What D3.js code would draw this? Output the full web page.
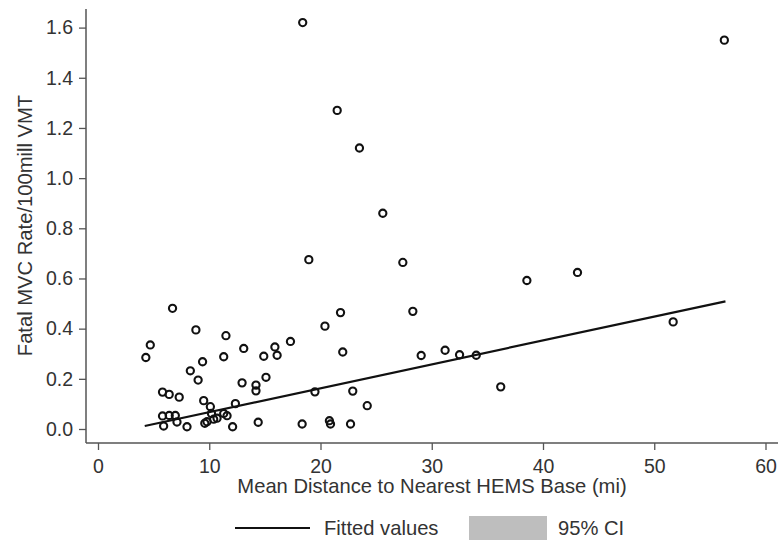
<!DOCTYPE html>
<html>
<head>
<meta charset="utf-8">
<script src="https://cdn.jsdelivr.net/npm/d3@7"></script>
<style>
  body { margin: 0; background: #fff; }
  text { font-family: "Liberation Sans", Arial, sans-serif; fill: #333; }
</style>
</head>
<body>
<script>
// distance to nearest HEMS base (mi) and fatal MVC rate per 100mill VMT
var distance = [18.4, 21.5, 23.5, 25.6, 56.3, 18.95, 27.4, 43.1, 38.55, 28.3,
  51.7, 29.05, 31.2, 32.5, 34.0, 36.2, 6.7, 21.8, 8.8, 20.4,
  11.5, 4.7, 17.3, 13.1, 15.9, 4.3, 11.3, 14.9, 16.1, 22.0,
  9.4, 8.3, 9.0, 15.1, 12.95, 14.2, 14.2, 19.5, 22.9, 5.8,
  6.4, 7.3, 9.5, 24.2, 12.35, 10.1, 5.8, 6.4, 6.95, 5.9,
  7.1, 8.0, 10.2, 10.7, 9.8, 9.6, 11.3, 11.6, 10.4, 12.1,
  14.4, 18.35, 20.8, 20.9, 22.7];
var rate = [1.62, 1.27, 1.12, 0.86, 1.55, 0.675, 0.664, 0.624, 0.592, 0.469,
  0.427, 0.293, 0.314, 0.296, 0.294, 0.168, 0.481, 0.464, 0.395, 0.41,
  0.372, 0.335, 0.349, 0.321, 0.327, 0.285, 0.288, 0.29, 0.294, 0.307,
  0.268, 0.232, 0.195, 0.206, 0.184, 0.175, 0.152, 0.148, 0.151, 0.147,
  0.138, 0.127, 0.113, 0.093, 0.101, 0.089, 0.052, 0.054, 0.054, 0.012,
  0.028, 0.009, 0.062, 0.043, 0.029, 0.023, 0.062, 0.053, 0.039, 0.009,
  0.027, 0.02, 0.033, 0.02, 0.02];

// fitted line end points
var fitX = [4.2, 56.4];
var fitY = [0.012, 0.509];

var xTicks = [0, 10, 20, 30, 40, 50, 60];
var yTicks = [0, 0.2, 0.4, 0.6, 0.8, 1.0, 1.2, 1.4, 1.6];

var W = 778, H = 542;
var axisX = 86, axisY = 443;
var titleSize = "20.2px", tickSize = "19.5px";

var svg = d3.select("body").append("svg")
  .attr("width", W).attr("height", H);
svg.append("rect").attr("width", W).attr("height", H).attr("fill", "#fff");

var x = d3.scaleLinear().domain([0, 60]).range([98, 765.5]);
var y = d3.scaleLinear().domain([0, 1.6]).range([429, 27.6]);

// axes
svg.append("line").attr("x1", axisX).attr("x2", axisX)
  .attr("y1", 9).attr("y2", axisY)
  .attr("stroke", "#555").attr("stroke-width", 1.5);
svg.append("line").attr("x1", axisX).attr("x2", W)
  .attr("y1", axisY).attr("y2", axisY)
  .attr("stroke", "#555").attr("stroke-width", 1.5);

var yAxis = svg.append("g").attr("transform", "translate(" + axisX + ",0)")
  .call(d3.axisLeft(y).tickValues(yTicks).tickSize(7).tickPadding(6)
    .tickFormat(d3.format(".1f")));
var xAxis = svg.append("g").attr("transform", "translate(0," + axisY + ")")
  .call(d3.axisBottom(x).tickValues(xTicks).tickSize(7).tickPadding(9));
[xAxis, yAxis].forEach(function(g){
  g.select(".domain").remove();
  g.selectAll(".tick line").attr("stroke", "#555").attr("stroke-width", 1.3);
  g.selectAll(".tick text").style("font-size", tickSize).attr("fill", "#333")
    .style("font-family", "'Liberation Sans', Arial, sans-serif");
});

// axis titles
svg.append("text")
  .attr("x", 432).attr("y", 493)
  .attr("text-anchor", "middle")
  .style("font-size", titleSize)
  .text("Mean Distance to Nearest HEMS Base (mi)");
svg.append("text")
  .attr("transform", "translate(31.5,225.5) rotate(-90)")
  .attr("text-anchor", "middle")
  .style("font-size", titleSize)
  .text("Fatal MVC Rate/100mill VMT");

// fitted line
svg.append("path")
  .datum(d3.zip(fitX, fitY))
  .attr("d", d3.line().x(function(d){ return x(d[0]); }).y(function(d){ return y(d[1]); }))
  .attr("stroke", "#111").attr("stroke-width", 2.2).attr("fill", "none");

// points
svg.selectAll("circle.pt")
  .data(d3.zip(distance, rate))
  .enter()
  .append("circle")
  .attr("class", "pt")
  .attr("cx", function(d){ return x(d[0]); })
  .attr("cy", function(d){ return y(d[1]); })
  .attr("r", 3.6)
  .attr("fill", "none")
  .attr("stroke", "#111")
  .attr("stroke-width", 2.1);

// legend
var lg = svg.append("g");
lg.append("line").attr("x1", 235).attr("x2", 310).attr("y1", 528).attr("y2", 528)
  .attr("stroke", "#111").attr("stroke-width", 2.2);
lg.append("text").attr("x", 324).attr("y", 535).style("font-size", titleSize).text("Fitted values");
lg.append("rect").attr("x", 469).attr("y", 516).attr("width", 78).attr("height", 24)
  .attr("fill", "#bebebe");
lg.append("text").attr("x", 558).attr("y", 535).style("font-size", titleSize).text("95% CI");
</script>
</body>
</html>
